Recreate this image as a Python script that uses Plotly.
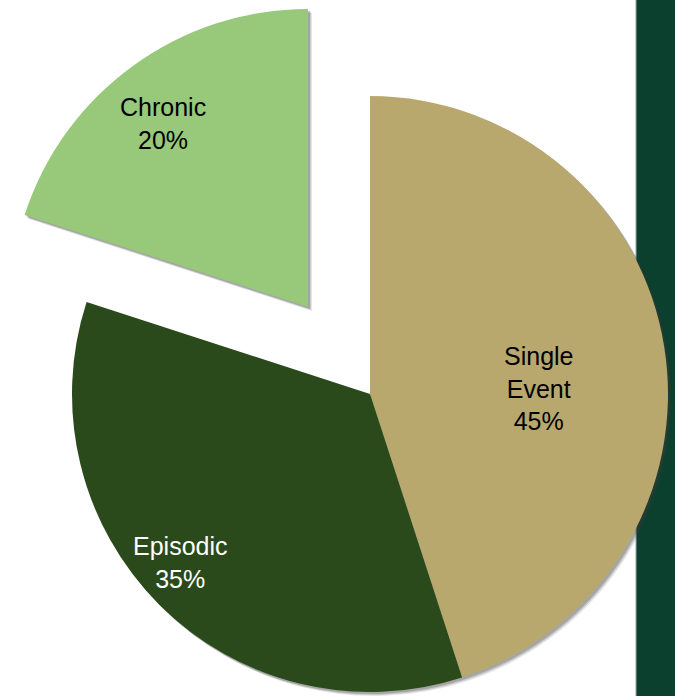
import plotly.graph_objects as go

categories = ["Single Event", "Episodic", "Chronic"]
values = [45, 35, 20]
colors = ["#B8A86E", "#2B4A1B", "#98C87A"]
text_colors = ["#000000", "#FFFFFF", "#000000"]
pulled = [False, False, True]

# label anchor positions (pixels from top-left)
label_pos = [(539, 388), (180, 562), (163, 124)]

W, H = 675, 696
display = [c.replace(" ", "<br>") for c in categories]
total = sum(values)

def px_domain(cx, cy, r):
    return dict(x=[(cx - r) / W, (cx + r) / W], y=[(H - (cy + r)) / H, (H - (cy - r)) / H])

R = 298
main_c = (370, 394)
pull_c = (308, 307)

fig = go.Figure()
clear = "rgba(0,0,0,0)"

def add_pie(center, show_mask, shadow=False, dx=0, dy=0, color=None):
    cols = []
    for i, c in enumerate(colors):
        if show_mask[i]:
            cols.append(color if shadow else c)
        else:
            cols.append(clear)
    fig.add_trace(go.Pie(
        labels=categories, values=values,
        sort=False, direction="clockwise", rotation=0,
        marker=dict(colors=cols, line=dict(width=0)),
        textinfo="none",
        domain=px_domain(center[0] + dx, center[1] + dy, R),
        showlegend=False, hoverinfo="skip" if shadow else "label+percent",
    ))

main_mask = [not p for p in pulled]
for d, a in [(4, 0.12), (3, 0.18), (2, 0.25)]:
    add_pie(main_c, main_mask, shadow=True, dx=d, dy=d, color=f"rgba(60,60,60,{a})")
    add_pie(pull_c, pulled, shadow=True, dx=d, dy=d, color=f"rgba(60,60,60,{a})")
add_pie(main_c, main_mask)
add_pie(pull_c, pulled)

annotations = []
for i, cat in enumerate(categories):
    x, y = label_pos[i]
    annotations.append(dict(
        x=x / W, y=(H - y) / H, xref="paper", yref="paper",
        text=f"{display[i]}<br>{values[i] / total:.0%}",
        showarrow=False, align="center", xanchor="center", yanchor="middle",
        font=dict(family="Liberation Sans, Arial", size=25, color=text_colors[i]),
    ))

fig.update_layout(
    width=W, height=H, margin=dict(l=0, r=0, t=0, b=0),
    paper_bgcolor="white", plot_bgcolor="white",
    annotations=annotations,
    shapes=[
        dict(type="rect", xref="paper", yref="paper", x0=636 / W, x1=1, y0=0, y1=1,
             fillcolor="#0B3F2E", line=dict(width=0), layer="below"),
        dict(type="line", xref="paper", yref="paper", x0=636 / W, x1=636 / W, y0=0, y1=1,
             line=dict(color="#9AA8A0", width=1), layer="below"),
    ],
)

fig.write_html("out.html")
